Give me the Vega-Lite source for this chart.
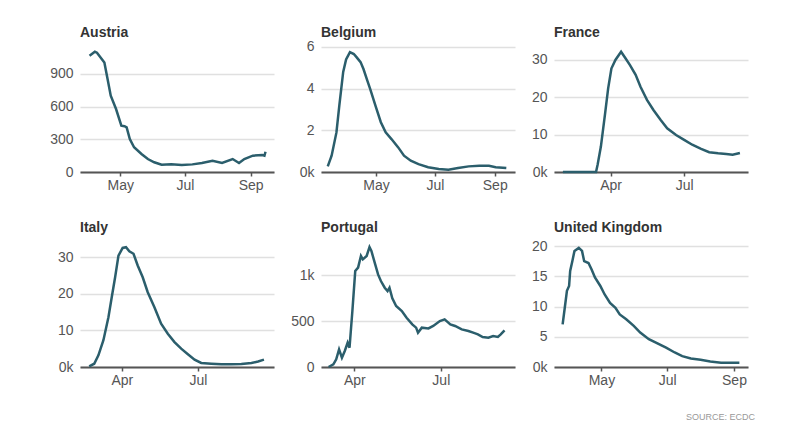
{
  "$schema": "https://vega.github.io/schema/vega-lite/v6.json",
  "padding": {"left": 49, "top": 26, "right": 5, "bottom": 5},
  "background": "white",
  "config": {
    "view": {"stroke": null},
    "font": "Liberation Sans",
    "axis": {"labelFont": "Liberation Sans", "labelFontSize": 14, "labelColor": "#555", "title": null, "gridColor": "#e0e0e0", "gridWidth": 1.5},
    "axisX": {"grid": false, "domainColor": "#555", "domainWidth": 2, "tickColor": "#555", "tickSize": 4, "tickWidth": 1.5, "labelPadding": 2},
    "axisY": {"domain": false, "ticks": false, "labelPadding": 7, "grid": true},
    "title": {"anchor": "start", "frame": "group", "font": "Liberation Sans", "fontSize": 14, "fontWeight": "bold", "color": "#333", "offset": -1},
    "line": {"color": "#2b5e6c", "strokeWidth": 2.5}
  },
  "title": {"text": "SOURCE: ECDC", "orient": "bottom", "anchor": "end", "frame": "bounds", "fontSize": 9, "fontWeight": "normal", "color": "#999", "offset": 26, "dx": 7},
  "datasets": {
    "covid": [
      {"country": "Austria", "date": "2020-04-02", "v": 1067},
      {"country": "Austria", "date": "2020-04-07", "v": 1104},
      {"country": "Austria", "date": "2020-04-09", "v": 1095},
      {"country": "Austria", "date": "2020-04-16", "v": 1006},
      {"country": "Austria", "date": "2020-04-19", "v": 853},
      {"country": "Austria", "date": "2020-04-22", "v": 700},
      {"country": "Austria", "date": "2020-04-27", "v": 578},
      {"country": "Austria", "date": "2020-05-02", "v": 425},
      {"country": "Austria", "date": "2020-05-05", "v": 420},
      {"country": "Austria", "date": "2020-05-07", "v": 410},
      {"country": "Austria", "date": "2020-05-10", "v": 303},
      {"country": "Austria", "date": "2020-05-14", "v": 227},
      {"country": "Austria", "date": "2020-05-21", "v": 165},
      {"country": "Austria", "date": "2020-05-27", "v": 119},
      {"country": "Austria", "date": "2020-06-02", "v": 89},
      {"country": "Austria", "date": "2020-06-09", "v": 67},
      {"country": "Austria", "date": "2020-06-18", "v": 70},
      {"country": "Austria", "date": "2020-06-28", "v": 64},
      {"country": "Austria", "date": "2020-07-08", "v": 70},
      {"country": "Austria", "date": "2020-07-17", "v": 83},
      {"country": "Austria", "date": "2020-07-27", "v": 104},
      {"country": "Austria", "date": "2020-08-05", "v": 83},
      {"country": "Austria", "date": "2020-08-15", "v": 119},
      {"country": "Austria", "date": "2020-08-21", "v": 83},
      {"country": "Austria", "date": "2020-08-26", "v": 119},
      {"country": "Austria", "date": "2020-09-03", "v": 150},
      {"country": "Austria", "date": "2020-09-12", "v": 156},
      {"country": "Austria", "date": "2020-09-14", "v": 150},
      {"country": "Austria", "date": "2020-09-15", "v": 186},

      {"country": "Belgium", "date": "2020-03-12", "v": 0.27},
      {"country": "Belgium", "date": "2020-03-16", "v": 0.78},
      {"country": "Belgium", "date": "2020-03-21", "v": 1.9},
      {"country": "Belgium", "date": "2020-03-24", "v": 3.2},
      {"country": "Belgium", "date": "2020-03-28", "v": 4.8},
      {"country": "Belgium", "date": "2020-03-31", "v": 5.4},
      {"country": "Belgium", "date": "2020-04-04", "v": 5.75},
      {"country": "Belgium", "date": "2020-04-08", "v": 5.66},
      {"country": "Belgium", "date": "2020-04-11", "v": 5.5},
      {"country": "Belgium", "date": "2020-04-15", "v": 5.27},
      {"country": "Belgium", "date": "2020-04-18", "v": 4.94},
      {"country": "Belgium", "date": "2020-04-22", "v": 4.38},
      {"country": "Belgium", "date": "2020-04-25", "v": 3.98},
      {"country": "Belgium", "date": "2020-05-01", "v": 3.1},
      {"country": "Belgium", "date": "2020-05-06", "v": 2.39},
      {"country": "Belgium", "date": "2020-05-11", "v": 1.9},
      {"country": "Belgium", "date": "2020-05-17", "v": 1.58},
      {"country": "Belgium", "date": "2020-05-24", "v": 1.18},
      {"country": "Belgium", "date": "2020-05-30", "v": 0.78},
      {"country": "Belgium", "date": "2020-06-06", "v": 0.54},
      {"country": "Belgium", "date": "2020-06-14", "v": 0.38},
      {"country": "Belgium", "date": "2020-06-24", "v": 0.23},
      {"country": "Belgium", "date": "2020-07-05", "v": 0.14},
      {"country": "Belgium", "date": "2020-07-15", "v": 0.11},
      {"country": "Belgium", "date": "2020-07-25", "v": 0.19},
      {"country": "Belgium", "date": "2020-08-05", "v": 0.27},
      {"country": "Belgium", "date": "2020-08-16", "v": 0.3},
      {"country": "Belgium", "date": "2020-08-26", "v": 0.3},
      {"country": "Belgium", "date": "2020-09-02", "v": 0.23},
      {"country": "Belgium", "date": "2020-09-13", "v": 0.19},

      {"country": "France", "date": "2020-02-02", "v": 0},
      {"country": "France", "date": "2020-02-26", "v": 0},
      {"country": "France", "date": "2020-03-14", "v": 0},
      {"country": "France", "date": "2020-03-16", "v": 2},
      {"country": "France", "date": "2020-03-20", "v": 6.8},
      {"country": "France", "date": "2020-03-25", "v": 15.3},
      {"country": "France", "date": "2020-03-29", "v": 22.4},
      {"country": "France", "date": "2020-04-02", "v": 27.7},
      {"country": "France", "date": "2020-04-07", "v": 30},
      {"country": "France", "date": "2020-04-14", "v": 32.2},
      {"country": "France", "date": "2020-04-19", "v": 30.6},
      {"country": "France", "date": "2020-04-25", "v": 28.6},
      {"country": "France", "date": "2020-05-02", "v": 26},
      {"country": "France", "date": "2020-05-08", "v": 22.8},
      {"country": "France", "date": "2020-05-16", "v": 19.3},
      {"country": "France", "date": "2020-05-24", "v": 16.6},
      {"country": "France", "date": "2020-06-02", "v": 13.9},
      {"country": "France", "date": "2020-06-10", "v": 11.7},
      {"country": "France", "date": "2020-06-21", "v": 9.9},
      {"country": "France", "date": "2020-07-01", "v": 8.6},
      {"country": "France", "date": "2020-07-11", "v": 7.3},
      {"country": "France", "date": "2020-07-22", "v": 6.2},
      {"country": "France", "date": "2020-08-01", "v": 5.3},
      {"country": "France", "date": "2020-08-12", "v": 5},
      {"country": "France", "date": "2020-08-22", "v": 4.8},
      {"country": "France", "date": "2020-08-30", "v": 4.6},
      {"country": "France", "date": "2020-09-08", "v": 5.1},

      {"country": "Italy", "date": "2020-02-22", "v": 0.2},
      {"country": "Italy", "date": "2020-02-28", "v": 0.9},
      {"country": "Italy", "date": "2020-03-04", "v": 3.2},
      {"country": "Italy", "date": "2020-03-10", "v": 7.3},
      {"country": "Italy", "date": "2020-03-16", "v": 13.6},
      {"country": "Italy", "date": "2020-03-20", "v": 19.1},
      {"country": "Italy", "date": "2020-03-24", "v": 24.5},
      {"country": "Italy", "date": "2020-03-28", "v": 30.4},
      {"country": "Italy", "date": "2020-04-02", "v": 32.5},
      {"country": "Italy", "date": "2020-04-06", "v": 32.7},
      {"country": "Italy", "date": "2020-04-10", "v": 31.6},
      {"country": "Italy", "date": "2020-04-15", "v": 30.9},
      {"country": "Italy", "date": "2020-04-20", "v": 27.7},
      {"country": "Italy", "date": "2020-04-26", "v": 24.5},
      {"country": "Italy", "date": "2020-05-02", "v": 20.4},
      {"country": "Italy", "date": "2020-05-10", "v": 16.3},
      {"country": "Italy", "date": "2020-05-18", "v": 11.8},
      {"country": "Italy", "date": "2020-05-26", "v": 9.1},
      {"country": "Italy", "date": "2020-06-03", "v": 6.8},
      {"country": "Italy", "date": "2020-06-11", "v": 5},
      {"country": "Italy", "date": "2020-06-19", "v": 3.5},
      {"country": "Italy", "date": "2020-06-27", "v": 2},
      {"country": "Italy", "date": "2020-07-05", "v": 1.1},
      {"country": "Italy", "date": "2020-07-17", "v": 0.9},
      {"country": "Italy", "date": "2020-07-29", "v": 0.75},
      {"country": "Italy", "date": "2020-08-10", "v": 0.75},
      {"country": "Italy", "date": "2020-08-22", "v": 0.8},
      {"country": "Italy", "date": "2020-09-03", "v": 1.1},
      {"country": "Italy", "date": "2020-09-11", "v": 1.5},
      {"country": "Italy", "date": "2020-09-18", "v": 2},

      {"country": "Portugal", "date": "2020-03-05", "v": 0},
      {"country": "Portugal", "date": "2020-03-10", "v": 29},
      {"country": "Portugal", "date": "2020-03-13", "v": 83},
      {"country": "Portugal", "date": "2020-03-16", "v": 192},
      {"country": "Portugal", "date": "2020-03-19", "v": 101},
      {"country": "Portugal", "date": "2020-03-22", "v": 174},
      {"country": "Portugal", "date": "2020-03-25", "v": 264},
      {"country": "Portugal", "date": "2020-03-27", "v": 210},
      {"country": "Portugal", "date": "2020-03-30", "v": 609},
      {"country": "Portugal", "date": "2020-04-02", "v": 1043},
      {"country": "Portugal", "date": "2020-04-05", "v": 1080},
      {"country": "Portugal", "date": "2020-04-08", "v": 1207},
      {"country": "Portugal", "date": "2020-04-10", "v": 1170},
      {"country": "Portugal", "date": "2020-04-14", "v": 1207},
      {"country": "Portugal", "date": "2020-04-17", "v": 1304},
      {"country": "Portugal", "date": "2020-04-19", "v": 1261},
      {"country": "Portugal", "date": "2020-04-23", "v": 1116},
      {"country": "Portugal", "date": "2020-04-26", "v": 1007},
      {"country": "Portugal", "date": "2020-04-29", "v": 935},
      {"country": "Portugal", "date": "2020-05-03", "v": 862},
      {"country": "Portugal", "date": "2020-05-06", "v": 826},
      {"country": "Portugal", "date": "2020-05-08", "v": 862},
      {"country": "Portugal", "date": "2020-05-11", "v": 747},
      {"country": "Portugal", "date": "2020-05-15", "v": 663},
      {"country": "Portugal", "date": "2020-05-21", "v": 609},
      {"country": "Portugal", "date": "2020-05-26", "v": 536},
      {"country": "Portugal", "date": "2020-06-01", "v": 464},
      {"country": "Portugal", "date": "2020-06-05", "v": 428},
      {"country": "Portugal", "date": "2020-06-07", "v": 373},
      {"country": "Portugal", "date": "2020-06-11", "v": 428},
      {"country": "Portugal", "date": "2020-06-18", "v": 420},
      {"country": "Portugal", "date": "2020-06-23", "v": 446},
      {"country": "Portugal", "date": "2020-06-30", "v": 500},
      {"country": "Portugal", "date": "2020-07-05", "v": 518},
      {"country": "Portugal", "date": "2020-07-11", "v": 464},
      {"country": "Portugal", "date": "2020-07-16", "v": 446},
      {"country": "Portugal", "date": "2020-07-23", "v": 409},
      {"country": "Portugal", "date": "2020-07-30", "v": 391},
      {"country": "Portugal", "date": "2020-08-04", "v": 373},
      {"country": "Portugal", "date": "2020-08-09", "v": 355},
      {"country": "Portugal", "date": "2020-08-14", "v": 326},
      {"country": "Portugal", "date": "2020-08-20", "v": 318},
      {"country": "Portugal", "date": "2020-08-25", "v": 337},
      {"country": "Portugal", "date": "2020-08-30", "v": 326},
      {"country": "Portugal", "date": "2020-09-02", "v": 355},
      {"country": "Portugal", "date": "2020-09-06", "v": 399},

      {"country": "United Kingdom", "date": "2020-03-26", "v": 7.05},
      {"country": "United Kingdom", "date": "2020-03-28", "v": 9.8},
      {"country": "United Kingdom", "date": "2020-03-30", "v": 12.6},
      {"country": "United Kingdom", "date": "2020-04-01", "v": 13.4},
      {"country": "United Kingdom", "date": "2020-04-02", "v": 15.9},
      {"country": "United Kingdom", "date": "2020-04-04", "v": 17.5},
      {"country": "United Kingdom", "date": "2020-04-06", "v": 19.2},
      {"country": "United Kingdom", "date": "2020-04-10", "v": 19.7},
      {"country": "United Kingdom", "date": "2020-04-13", "v": 19.2},
      {"country": "United Kingdom", "date": "2020-04-15", "v": 17.5},
      {"country": "United Kingdom", "date": "2020-04-19", "v": 17.2},
      {"country": "United Kingdom", "date": "2020-04-22", "v": 16.1},
      {"country": "United Kingdom", "date": "2020-04-25", "v": 14.8},
      {"country": "United Kingdom", "date": "2020-04-30", "v": 13.4},
      {"country": "United Kingdom", "date": "2020-05-04", "v": 12},
      {"country": "United Kingdom", "date": "2020-05-09", "v": 10.6},
      {"country": "United Kingdom", "date": "2020-05-14", "v": 9.8},
      {"country": "United Kingdom", "date": "2020-05-18", "v": 8.7},
      {"country": "United Kingdom", "date": "2020-05-24", "v": 7.9},
      {"country": "United Kingdom", "date": "2020-05-31", "v": 6.8},
      {"country": "United Kingdom", "date": "2020-06-06", "v": 5.7},
      {"country": "United Kingdom", "date": "2020-06-14", "v": 4.6},
      {"country": "United Kingdom", "date": "2020-06-22", "v": 3.9},
      {"country": "United Kingdom", "date": "2020-06-30", "v": 3.2},
      {"country": "United Kingdom", "date": "2020-07-08", "v": 2.4},
      {"country": "United Kingdom", "date": "2020-07-15", "v": 1.8},
      {"country": "United Kingdom", "date": "2020-07-23", "v": 1.4},
      {"country": "United Kingdom", "date": "2020-08-01", "v": 1.2},
      {"country": "United Kingdom", "date": "2020-08-10", "v": 0.9},
      {"country": "United Kingdom", "date": "2020-08-20", "v": 0.7},
      {"country": "United Kingdom", "date": "2020-08-29", "v": 0.7},
      {"country": "United Kingdom", "date": "2020-09-06", "v": 0.7}
    ]
  },
  "data": {"name": "covid"},
  "columns": 3,
  "spacing": {"row": 29, "column": 16},
  "concat": [
    {
      "title": "Austria", "width": 194, "height": 133,
      "transform": [{"filter": "datum.country === 'Austria'"}],
      "mark": "line",
      "encoding": {
        "x": {"field": "date", "type": "temporal",
          "scale": {"type": "utc", "domain": [{"year": 2020, "month": 3, "date": 24, "utc": true}, {"year": 2020, "month": 9, "date": 23, "utc": true}]},
          "axis": {"format": "%b", "values": [{"year": 2020, "month": 5, "date": 1, "utc": true}, {"year": 2020, "month": 7, "date": 1, "utc": true}, {"year": 2020, "month": 9, "date": 1, "utc": true}]}},
        "y": {"field": "v", "type": "quantitative", "scale": {"domain": [0, 1221]}, "axis": {"values": [0, 300, 600, 900]}}
      }
    },
    {
      "title": "Belgium", "width": 194, "height": 133,
      "transform": [{"filter": "datum.country === 'Belgium'"}],
      "mark": "line",
      "encoding": {
        "x": {"field": "date", "type": "temporal",
          "scale": {"type": "utc", "domain": [{"year": 2020, "month": 3, "date": 5, "utc": true}, {"year": 2020, "month": 9, "date": 22, "utc": true}]},
          "axis": {"format": "%b", "values": [{"year": 2020, "month": 5, "date": 1, "utc": true}, {"year": 2020, "month": 7, "date": 1, "utc": true}, {"year": 2020, "month": 9, "date": 1, "utc": true}]}},
        "y": {"field": "v", "type": "quantitative", "scale": {"domain": [0, 6.38]}, "axis": {"values": [0, 2, 4, 6], "labelExpr": "datum.value === 0 ? '0k' : datum.label"}}
      }
    },
    {
      "title": "France", "width": 194, "height": 133,
      "transform": [{"filter": "datum.country === 'France'"}],
      "mark": "line",
      "encoding": {
        "x": {"field": "date", "type": "temporal",
          "scale": {"type": "utc", "domain": [{"year": 2020, "month": 1, "date": 22, "utc": true}, {"year": 2020, "month": 9, "date": 18, "utc": true}]},
          "axis": {"format": "%b", "values": [{"year": 2020, "month": 4, "date": 1, "utc": true}, {"year": 2020, "month": 7, "date": 1, "utc": true}]}},
        "y": {"field": "v", "type": "quantitative", "scale": {"domain": [0, 35.6]}, "axis": {"values": [0, 10, 20, 30], "labelExpr": "datum.value === 0 ? '0k' : datum.label"}}
      }
    },
    {
      "title": "Italy", "width": 194, "height": 133,
      "transform": [{"filter": "datum.country === 'Italy'"}],
      "mark": "line",
      "encoding": {
        "x": {"field": "date", "type": "temporal",
          "scale": {"type": "utc", "domain": [{"year": 2020, "month": 2, "date": 11, "utc": true}, {"year": 2020, "month": 9, "date": 30, "utc": true}]},
          "axis": {"format": "%b", "values": [{"year": 2020, "month": 4, "date": 1, "utc": true}, {"year": 2020, "month": 7, "date": 1, "utc": true}]}},
        "y": {"field": "v", "type": "quantitative", "scale": {"domain": [0, 36.3]}, "axis": {"values": [0, 10, 20, 30], "labelExpr": "datum.value === 0 ? '0k' : datum.label"}}
      }
    },
    {
      "title": "Portugal", "width": 194, "height": 133,
      "transform": [{"filter": "datum.country === 'Portugal'"}],
      "mark": "line",
      "encoding": {
        "x": {"field": "date", "type": "temporal",
          "scale": {"type": "utc", "domain": [{"year": 2020, "month": 2, "date": 26, "utc": true}, {"year": 2020, "month": 9, "date": 17, "utc": true}]},
          "axis": {"format": "%b", "values": [{"year": 2020, "month": 4, "date": 1, "utc": true}, {"year": 2020, "month": 7, "date": 1, "utc": true}]}},
        "y": {"field": "v", "type": "quantitative", "scale": {"domain": [0, 1446]}, "axis": {"values": [0, 500, 1000], "labelExpr": "datum.value === 1000 ? '1k' : datum.label"}}
      }
    },
    {
      "title": "United Kingdom", "width": 194, "height": 133,
      "transform": [{"filter": "datum.country === 'United Kingdom'"}],
      "mark": "line",
      "encoding": {
        "x": {"field": "date", "type": "temporal",
          "scale": {"type": "utc", "domain": [{"year": 2020, "month": 3, "date": 18, "utc": true}, {"year": 2020, "month": 9, "date": 14, "utc": true}]},
          "axis": {"format": "%b", "values": [{"year": 2020, "month": 5, "date": 1, "utc": true}, {"year": 2020, "month": 7, "date": 1, "utc": true}, {"year": 2020, "month": 9, "date": 1, "utc": true}]}},
        "y": {"field": "v", "type": "quantitative", "scale": {"domain": [0, 22]}, "axis": {"values": [0, 5, 10, 15, 20], "labelExpr": "datum.value === 0 ? '0k' : datum.label"}}
      }
    }
  ]
}
